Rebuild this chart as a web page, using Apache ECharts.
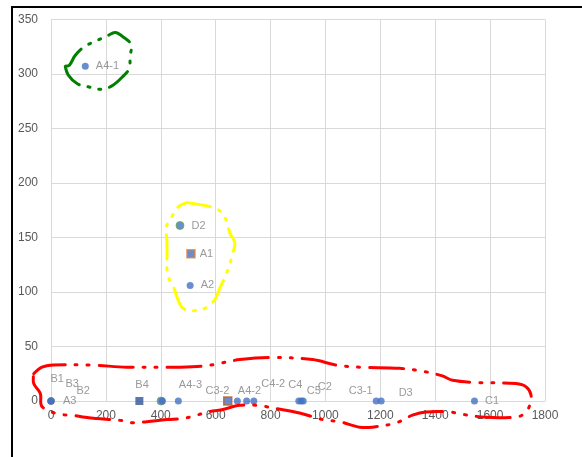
<!DOCTYPE html>
<html>
<head>
<meta charset="utf-8">
<script src="https://cdn.jsdelivr.net/npm/echarts@6/dist/echarts.min.js"></script>
<style>
html,body{margin:0;padding:0;background:#fff;}
#chart{width:582px;height:457px;}
</style>
</head>
<body>
<div id="chart"></div>
<script>
// ---- data ----
var pointNames = ['A4-1','D2','A1','A2','A3','B1','B3','B2','B4','','','A4-3','C3-2','A4-2','','C4-2','C4','C2','C5','C3-1','D3','C1'];
var pointX = [125, 470, 510, 507, 0, 0, 0, 0, 322, 401, 406, 464, 644, 679, 713, 739, 903, 912, 919, 1185, 1203, 1543];
var pointY = [307, 161, 135, 106, 0, 0, 0, 0, 0, 0, 0, 0, 0, 0, 0, 0, 0, 0, 0, 0, 0, 0];
var xTicks = [0, 200, 400, 600, 800, 1000, 1200, 1400, 1600, 1800];
var yTicks = [0, 50, 100, 150, 200, 250, 300, 350];

// hand-drawn annotation loops (data coordinates)
var greenLoopX = [52, 63, 96, 139, 190, 227, 259, 285, 288, 292, 263, 234, 205, 161, 121, 88, 67, 52];
var greenLoopY = [307, 299, 291, 288, 286, 290, 297, 305, 316, 327, 334, 338, 335, 330, 325, 317, 308, 307];
var yellowLoopX = [494, 585, 622, 641, 652, 670, 663, 648, 634, 616, 597, 567, 532, 481, 458, 445, 430, 422, 423, 422, 419, 440, 463, 494];
var yellowLoopY = [182, 178, 173, 164, 154, 145, 136, 123, 114, 104, 93, 86, 83, 85, 96, 106, 112, 122, 134, 148, 159, 169, 178, 182];
var redLoopX = [-63, -33, 8, 143, 276, 397, 470, 554, 604, 688, 797, 953, 1040, 1125, 1270, 1361, 1426, 1463, 1549, 1694, 1731, 1749, 1743, 1717, 1681, 1585, 1494, 1452, 1367, 1317, 1258, 1171, 1125, 1052, 990, 906, 845, 749, 688, 622, 572, 531, 481, 422, 349, 299, 258, 167, 125, 76, 27, -33, -39, -63, -63];
var redLoopY = [25, 31, 33, 33, 31, 31, 31, 32, 34, 38, 40, 38, 33, 31, 30, 27, 23, 19, 17, 16, 13, 5.5, -5, -13, -15, -15, -12, -10, -10, -13, -20, -24, -24, -19, -17, -11, -8, -4, -4, -8, -10, -13, -16, -17, -19, -20, -18, -16, -15, -13, -12, -5, 7, 16, 25];

// ---- styling (kept separate from data) ----
var BLUE = '#4472C4';
var markerStyle = {
  'A1':   {symbol: 'rect', size: 8, fill: BLUE, border: '#ED7D31', bw: 1.5},
  'C3-2': {symbol: 'rect', size: 8, fill: BLUE, border: '#C55A11', bw: 1.5},
  'B4':   {symbol: 'rect', size: 8, fill: '#2F5597', border: '#2F5597', bw: 0},
  'D2':   {symbol: 'circle', size: 8, fill: BLUE, border: '#70AD47', bw: 1},
  'A3':   {symbol: 'circle', size: 7, fill: BLUE, border: '#FFC000', bw: 0.8}
};
var specialIdx = {9: {symbol: 'circle', size: 8, fill: BLUE, border: '#70AD47', bw: 1}};
var labelOffset = {
  'B1': [-9, -22], 'B3': [6, -17], 'B2': [17, -10], 'A3': [3, 0],
  'B4': [-13, -16], 'A4-3': [-8, -16], 'C3-2': [-32, -10], 'A4-2': [-8, -10],
  'C4-2': [-1, -17], 'C4': [-19, -16], 'C5': [-5, -10], 'C2': [8, -14],
  'C3-1': [-36, -10], 'D3': [9, -8], 'C1': [2, 0],
  'A4-1': [2, 0], 'D2': [2, 0], 'A1': [-1, 0], 'A2': [2, 0]
};
var loopStyles = [
  {color: '#008000', dash: [24, 9, 2, 9, 2, 9]},
  {color: '#FFFF00', dash: [24, 9, 2, 9, 2, 9]},
  {color: '#FF0000', dash: [34, 10, 2, 10, 2, 10]}
];

function zip(xs, ys) { return xs.map(function (x, i) { return [x, ys[i]]; }); }
var loops = [zip(greenLoopX, greenLoopY), zip(yellowLoopX, yellowLoopY), zip(redLoopX, redLoopY)];

var scatterData = pointX.map(function (x, i) {
  var name = pointNames[i];
  var st = specialIdx[i] || markerStyle[name] || {symbol: 'circle', size: 7, fill: BLUE, border: BLUE, bw: 0};
  return {
    name: name,
    value: [x, pointY[i]],
    symbol: st.symbol,
    symbolSize: st.size,
    itemStyle: {color: st.fill, borderColor: st.border, borderWidth: st.bw},
    label: {
      show: name !== '',
      position: 'right',
      distance: 5,
      offset: labelOffset[name] || [0, 0],
      formatter: name
    }
  };
});

var chart = echarts.init(document.getElementById('chart'), null, {renderer: 'canvas'});
chart.setOption({
  animation: false,
  backgroundColor: '#ffffff',
  textStyle: {fontFamily: 'Liberation Sans, Arial, sans-serif'},
  grid: {left: 51, right: 37, top: 19.5, bottom: 56, containLabel: false},
  xAxis: {
    type: 'value', min: xTicks[0], max: xTicks[xTicks.length - 1], interval: xTicks[1] - xTicks[0],
    axisLine: {show: true, lineStyle: {color: '#D9D9D9', width: 1}},
    axisTick: {show: false},
    splitLine: {show: true, lineStyle: {color: '#D9D9D9', width: 1}},
    axisLabel: {color: '#595959', fontSize: 12, margin: 9, formatter: function (v) { return String(v); }}
  },
  yAxis: {
    type: 'value', min: yTicks[0], max: yTicks[yTicks.length - 1], interval: yTicks[1] - yTicks[0],
    axisLine: {show: true, lineStyle: {color: '#D9D9D9', width: 1}},
    axisTick: {show: false},
    splitLine: {show: true, lineStyle: {color: '#D9D9D9', width: 1}},
    axisLabel: {color: '#595959', fontSize: 12, margin: 13, formatter: function (v) { return String(v); }}
  },
  graphic: [{
    type: 'rect', silent: true, z: 100,
    shape: {x: 12, y: 7, width: 700, height: 600},
    style: {fill: 'none', stroke: '#000000', lineWidth: 2}
  }],
  series: [
    {
      type: 'scatter',
      data: scatterData,
      z: 3,
      label: {color: '#7F7F7F', fontSize: 11, fontFamily: 'Liberation Sans, Arial, sans-serif'}
    },
    {
      type: 'custom',
      clip: false,
      silent: true,
      z: 5,
      data: [[0, 0], [1, 0], [2, 0]],
      encode: {x: -1, y: -1},
      renderItem: function (params, api) {
        var k = params.dataIndex;
        // linear mapping anchored on the axis scale (extrapolates beyond axis range)
        var o = api.coord([0, 0]);
        var e = api.coord([1800, 350]);
        var sx = (e[0] - o[0]) / 1800, sy = (e[1] - o[1]) / 350;
        var pts = loops[k].map(function (p) { return [o[0] + p[0] * sx, o[1] + p[1] * sy]; });
        return {
          type: 'polyline',
          shape: {points: pts, smooth: 0.35},
          style: {
            fill: null,
            stroke: loopStyles[k].color,
            lineWidth: 3,
            lineDash: loopStyles[k].dash,
            lineCap: 'round',
            lineJoin: 'round'
          }
        };
      }
    }
  ]
});
</script>
</body>
</html>
